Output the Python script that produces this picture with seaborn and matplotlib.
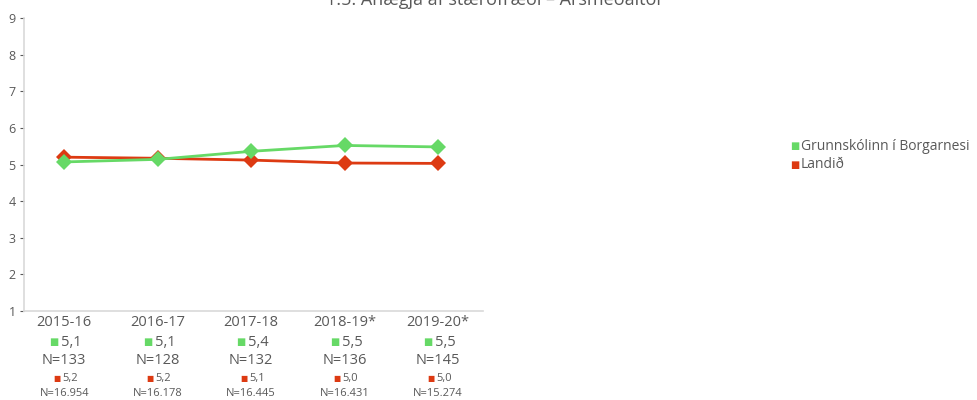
import matplotlib
matplotlib.use("Agg")
import matplotlib.pyplot as plt
import matplotlib.transforms as mtransforms
import seaborn as sns
import pandas as pd

years = ["2015-16", "2016-17", "2017-18", "2018-19*", "2019-20*"]
school_name = "Grunnskólinn í Borgarnesi"
land_name = "Landið"
school_vals = [5.07, 5.14, 5.36, 5.52, 5.48]
land_vals = [5.20, 5.17, 5.12, 5.04, 5.03]
school_lbl = ["5,1", "5,1", "5,4", "5,5", "5,5"]
school_n = ["N=133", "N=128", "N=132", "N=136", "N=145"]
land_lbl = ["5,2", "5,2", "5,1", "5,0", "5,0"]
land_n = ["N=16.954", "N=16.178", "N=16.445", "N=16.431", "N=15.274"]

GREEN = "#66d966"
RED = "#dd3a12"
GRAY = "#595959"

sns.set_theme(style="white")
plt.rcParams["font.family"] = ["Open Sans", "DejaVu Sans"]

df = pd.DataFrame({
    "year": years * 2,
    "x": list(range(len(years))) * 2,
    "value": school_vals + land_vals,
    "series": [school_name] * len(years) + [land_name] * len(years),
})

fig = plt.figure(figsize=(9.77, 4.0), dpi=100)
ax = fig.add_axes([24 / 977, 1 - 311 / 400, (483 - 24) / 977, (311 - 18) / 400])

sns.lineplot(data=df, x="x", y="value", hue="series",
             palette={school_name: GREEN, land_name: RED},
             hue_order=[land_name, school_name],
             marker="D", markersize=8, markeredgewidth=0, linewidth=2.0,
             ax=ax, legend=False)

ax.set_xlim(-0.43, 4.48)
ax.set_ylim(1, 9)
ax.set_yticks(range(1, 10))
ax.set_xticks(range(len(years)))
ax.set_xticklabels(years)
ax.set_xlabel("")
ax.set_ylabel("")
ax.tick_params(axis="x", length=0, labelsize=10.5, colors=GRAY, pad=3)
ax.tick_params(axis="y", length=3, width=0.8, color=GRAY, labelsize=9,
               labelcolor=GRAY, pad=3, left=True)
for side in ["top", "right"]:
    ax.spines[side].set_visible(False)
for side in ["left", "bottom"]:
    ax.spines[side].set_color("#d9d9d9")
    ax.spines[side].set_linewidth(1.2)

trans = mtransforms.blended_transform_factory(ax.transData, fig.transFigure)
def fy(px):
    return 1 - px / 400

for i in range(len(years)):
    ax.text(i - 0.06, fy(342), "■", transform=trans, color=GREEN, fontsize=7,
            ha="right", va="center", family=["DejaVu Sans"])
    ax.text(i - 0.03, fy(342), school_lbl[i], transform=trans, color=GRAY,
            fontsize=10.5, ha="left", va="center")
    ax.text(i, fy(360), school_n[i], transform=trans, color=GRAY,
            fontsize=10.5, ha="center", va="center")
    ax.text(i - 0.04, fy(379), "■", transform=trans, color=RED, fontsize=5.5,
            ha="right", va="center", family=["DejaVu Sans"])
    ax.text(i - 0.02, fy(379), land_lbl[i], transform=trans, color=GRAY,
            fontsize=8, ha="left", va="center")
    ax.text(i, fy(393), land_n[i], transform=trans, color=GRAY,
            fontsize=8, ha="center", va="center")

# legend
fig.text(790 / 977, fy(146), "■", color=GREEN, fontsize=7, ha="left", va="center",
         family=["DejaVu Sans"])
fig.text(801 / 977, fy(146), "Grunnskólinn í Borgarnesi", color=GRAY, fontsize=10,
         ha="left", va="center")
fig.text(790 / 977, fy(165), "■", color=RED, fontsize=7, ha="left", va="center",
         family=["DejaVu Sans"])
fig.text(801 / 977, fy(165), land_name, color=GRAY, fontsize=10,
         ha="left", va="center")

fig.text(0.505, fy(5), "1.5. Ánægja af stærðfræði – Ársmeðaltöl", color=GRAY,
         fontsize=13, ha="center", va="baseline")

fig.savefig("out.png", dpi=100)
